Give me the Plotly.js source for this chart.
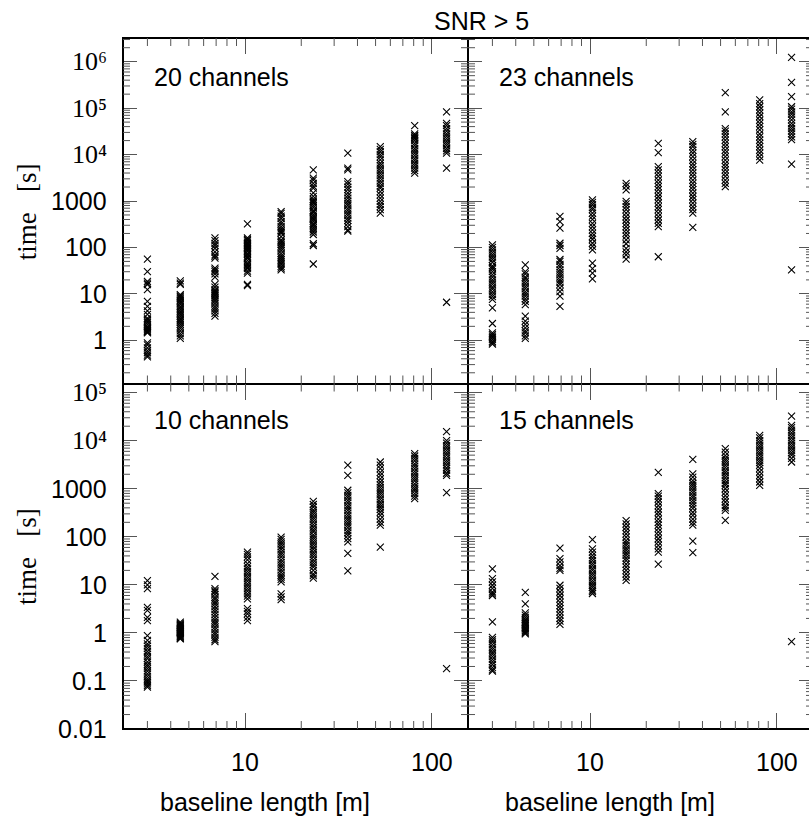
<!DOCTYPE html>
<html>
<head>
<meta charset="utf-8">
<script src="https://cdn.plot.ly/plotly-3.0.1.min.js"></script>
<style>
html,body{margin:0;padding:0;overflow:hidden;background:#fff;}
#chart{width:813px;height:821px;}
</style>
</head>
<body>
<div id="chart"></div>
<script>
// baseline lengths [m] of the ten baseline groups
const baselines = [3, 4.5, 6.9, 10.3, 15.6, 23.2, 35.5, 53, 81, 120];

// time [s] per baseline group, 20 channels (top left)
const times20 = [
  [56, 30, 18.5, 17, 15.8, 12.3, 6.9, 5.4, 4.3, 3.6, 3.0, 2.8, 2.6, 2.4, 2.2, 2.0, 1.9, 1.8, 1.7, 1.6, 1.55, 1.5, 1.44, 0.88, 0.8, 0.69, 0.6, 0.54, 0.48, 0.44],
  [19, 17, 16, 9.6, 9, 8.5, 8, 7.4, 7, 6.5, 6, 5.4, 5, 4.6, 4.2, 3.9, 3.6, 3.3, 3.0, 2.8, 2.6, 2.4, 2.2, 2.0, 1.8, 1.6, 1.4, 1.25, 1.1],
  [160, 140, 122, 110, 96, 80, 69, 64, 59, 36, 33, 30, 27, 23, 16, 14, 12.3, 11.5, 10.8, 10.2, 9.6, 9, 8.2, 7.5, 6.9, 6.2, 5.4, 4.8, 4.3, 3.8, 3.3],
  [323, 160, 150, 140, 130, 123, 118, 112, 105, 100, 95, 88, 82, 74, 70, 65, 61, 58, 52, 46, 43, 40, 37, 35, 31, 28, 16, 15],
  [590, 540, 470, 420, 360, 320, 280, 250, 230, 215, 200, 170, 145, 135, 125, 115, 105, 95, 85, 74, 66, 60, 54, 49, 44, 39, 36, 33],
  [4700, 3100, 2800, 2400, 2100, 1900, 1500, 1260, 1100, 1000, 950, 890, 800, 720, 630, 590, 560, 500, 460, 430, 400, 370, 330, 310, 290, 265, 240, 215, 190, 120, 110, 44],
  [10700, 5100, 4700, 2600, 2300, 2000, 1750, 1500, 1300, 1150, 1000, 890, 800, 690, 620, 550, 490, 430, 380, 330, 280, 240, 225],
  [14800, 13000, 11500, 10000, 8900, 7700, 6500, 5800, 5100, 4500, 4000, 3500, 3100, 2700, 2400, 2100, 1900, 1600, 1350, 1150, 980, 850, 760, 650, 550],
  [42000, 28000, 26000, 25000, 23000, 22000, 20000, 17500, 15500, 13500, 12000, 10700, 9500, 8300, 7400, 6500, 5800, 5100, 4500, 4000],
  [83000, 47000, 42000, 36000, 32000, 28000, 25000, 22000, 19500, 17500, 15500, 13500, 12000, 10700, 5100, 6.6]
];

// 23 channels (top right)
const times23 = [
  [114, 100, 89, 78, 69, 62, 55, 48, 40, 37, 34, 30, 26, 23, 20, 18, 16, 14, 12.6, 11, 9.8, 8.7, 7.6, 5, 2.3, 1.44, 1.33, 1.23, 1.14, 1.05, 0.95, 0.88, 0.83],
  [42, 30, 27, 23, 21, 18.6, 16.5, 14.5, 13, 11.2, 10, 8.9, 7.8, 6.9, 5.9, 3.3, 2.6, 2.2, 1.86, 1.6, 1.44, 1.25, 1.1],
  [465, 360, 260, 123, 110, 95, 55, 50, 43, 38, 33, 29, 26, 23, 20, 18, 16, 13.5, 11.2, 8.9, 5.4],
  [1060, 930, 830, 720, 650, 550, 470, 400, 330, 280, 240, 200, 174, 150, 123, 105, 89, 46, 35, 28, 21],
  [2400, 2100, 1740, 980, 870, 760, 650, 550, 460, 390, 330, 280, 240, 204, 175, 145, 120, 95, 80, 69, 56],
  [17500, 11000, 5500, 4700, 4000, 3400, 2800, 2400, 2040, 1750, 1480, 1250, 1070, 900, 760, 650, 550, 460, 390, 330, 280, 63],
  [19000, 16500, 14800, 12500, 10700, 9000, 7600, 6400, 5500, 4700, 4000, 3400, 2800, 2400, 2040, 1750, 1480, 1250, 1070, 900, 760, 650, 550, 270],
  [215000, 83000, 36000, 32000, 28000, 24000, 20400, 17500, 14800, 12500, 10700, 9000, 7600, 6400, 5500, 4700, 4000, 3400, 2800, 2400, 2040],
  [150000, 125000, 107000, 92000, 78000, 66000, 55000, 47000, 40000, 34000, 28000, 24000, 20400, 17500, 14800, 12500, 10700, 9000, 7600],
  [1240000, 360000, 176000, 107000, 95000, 83000, 74000, 65000, 56000, 47000, 41000, 36000, 32000, 28000, 24000, 21000, 6200, 33]
];

// 10 channels (bottom left)
const times10 = [
  [12.3, 10, 8.3, 3.4, 2.95, 2.1, 1.8, 0.88, 0.7, 0.59, 0.53, 0.47, 0.41, 0.36, 0.32, 0.29, 0.25, 0.22, 0.2, 0.18, 0.16, 0.14, 0.125, 0.11, 0.1, 0.095, 0.087, 0.08, 0.074],
  [1.67, 1.58, 1.5, 1.45, 1.41, 1.35, 1.3, 1.25, 1.2, 1.15, 1.1, 1.06, 1.02, 0.98, 0.95, 0.91, 0.87, 0.84, 0.8, 0.77, 0.75],
  [15, 8.3, 7.6, 7.1, 6.3, 5.5, 5, 4.4, 4, 3.5, 3.1, 2.75, 2.4, 2.1, 1.85, 1.66, 1.5, 1.32, 1.17, 1.02, 0.92, 0.81, 0.72, 0.66],
  [48, 43, 38, 33, 27.5, 24, 21.4, 19, 17, 15, 13.5, 12, 10.5, 9.4, 8.3, 7.4, 6.5, 5.8, 5.1, 3.2, 2.8, 2.5, 2.1, 1.8],
  [98, 88, 78, 70, 62, 55, 48, 43, 38, 33, 29.5, 26, 23.4, 20.5, 18.2, 16, 14.5, 13, 11.5, 6.5, 5.6, 4.9],
  [545, 470, 417, 360, 324, 290, 257, 230, 204, 180, 158, 140, 126, 110, 98, 88, 78, 70, 62, 55, 48, 43, 38, 33, 29.5, 26, 23.4, 20, 17, 15.5, 13.8],
  [3100, 1900, 930, 820, 724, 650, 575, 510, 447, 400, 355, 310, 275, 245, 219, 195, 174, 155, 135, 120, 107, 92, 78, 45, 19.5],
  [3600, 3100, 2630, 2200, 1900, 1600, 1380, 1200, 1070, 950, 850, 760, 676, 600, 525, 470, 417, 370, 324, 280, 234, 200, 174, 61],
  [5400, 4800, 4270, 3800, 3300, 2950, 2630, 2300, 2040, 1800, 1620, 1450, 1260, 1120, 1000, 900, 794, 700, 620],
  [15500, 10000, 8900, 7900, 7100, 6300, 5600, 5000, 4400, 3900, 3500, 3100, 2700, 2400, 2100, 1900, 830, 0.18]
];

// 15 channels (bottom right)
const times15 = [
  [21.5, 13.5, 11.5, 9.8, 8.4, 7.1, 6.5, 6.0, 1.7, 0.81, 0.72, 0.65, 0.57, 0.5, 0.45, 0.4, 0.36, 0.32, 0.28, 0.25, 0.22, 0.19, 0.17, 0.16],
  [7, 4, 2.6, 2.35, 2.1, 1.9, 1.78, 1.66, 1.58, 1.5, 1.41, 1.32, 1.25, 1.2, 1.12, 1.05, 1.0, 0.95],
  [58, 35, 30, 25, 22, 20, 9.8, 8.4, 7.1, 6, 5.1, 4.3, 3.7, 3.2, 2.75, 2.35, 2.0, 1.75, 1.5],
  [87, 56, 48, 41, 36, 32, 28, 25, 22, 20, 17.5, 15.8, 14, 12.3, 11, 9.8, 8.8, 7.8, 7.2, 6.6],
  [218, 185, 158, 135, 115, 98, 83, 74, 66, 58, 52, 46, 41, 36, 32, 27, 23.4, 20, 17, 14.5, 12.4],
  [2200, 794, 700, 617, 530, 447, 380, 324, 280, 234, 200, 174, 150, 126, 108, 91, 78, 66, 56, 48, 27],
  [4100, 2040, 1750, 1480, 1300, 1170, 1050, 933, 830, 724, 650, 575, 510, 447, 390, 324, 280, 234, 200, 174, 81, 47],
  [6800, 5800, 4900, 4300, 3900, 3500, 3100, 2750, 2400, 2150, 1900, 1680, 1480, 1300, 1170, 1000, 850, 720, 617, 530, 447, 400, 355, 220],
  [12900, 11400, 10000, 8900, 7900, 7100, 6300, 5600, 5000, 4400, 3900, 3500, 3100, 2650, 2240, 1900, 1620, 1380, 1170],
  [32500, 20900, 18600, 16600, 14600, 12900, 11400, 10000, 8900, 7900, 7100, 6300, 5600, 5000, 4300, 3600, 0.66]
];

const panelLabels = ["20 channels", "23 channels", "10 channels", "15 channels"];
const xTickVals = [10, 100];
const xTickText = ["10", "100"];
const yTickVals = [0.01, 0.1, 1, 10, 100, 1000, 1e4, 1e5, 1e6];
const yTickText = ["0.01", "0.1", "1", "10", "100", "1000", "10\u2074", "10\u2075", "10\u2076"];
const yTickSerif = [false, false, false, false, false, false, true, true, true];

// minor tick positions: digits 2..9 of each decade
function minorTicks(decades) {
  const out = [];
  decades.forEach(d => { for (let m = 2; m <= 9; m++) out.push(m * d); });
  return out;
}
const xMinor = minorTicks([1, 10, 100]);
const yMinor = minorTicks([0.001, 0.01, 0.1, 1, 10, 100, 1000, 1e4, 1e5, 1e6]);

function flatten(groups) {
  const xs = [], ys = [];
  groups.forEach((g, i) => g.forEach(v => { xs.push(baselines[i]); ys.push(v); }));
  return {xs, ys};
}

const sets = [times20, times23, times10, times15];
const axisPairs = [["x", "y"], ["x2", "y2"], ["x3", "y3"], ["x4", "y4"]];
const traces = sets.map((s, k) => {
  const f = flatten(s);
  return {
    type: "scatter", mode: "markers", x: f.xs, y: f.ys,
    xaxis: axisPairs[k][0], yaxis: axisPairs[k][1],
    marker: {symbol: "x-thin-open", size: 7, color: "#000", line: {color: "#000", width: 1.1}},
    showlegend: false, hoverinfo: "x+y"
  };
});

const SANS = "Liberation Sans, Arial, Helvetica, sans-serif";
const SERIF = "Liberation Serif, DejaVu Serif, serif";
const tickCol = "#555";
const xRange = [Math.log10(2.22), Math.log10(156.3)];
const topRange = [-0.93, 6.51];
const botRange = [-2, 5.19];

function xAxis(domain, anchor) {
  return {type: "log", domain: domain, anchor: anchor, range: xRange,
    showline: true, linecolor: "#000", linewidth: 1, mirror: "allticks",
    ticks: "inside", ticklen: 16, tickwidth: 1, tickcolor: tickCol,
    tickmode: "array", tickvals: xTickVals, showticklabels: false,
    showgrid: false, zeroline: false, fixedrange: true};
}
function yAxis(domain, anchor, range) {
  return {type: "log", domain: domain, anchor: anchor, range: range,
    showline: true, linecolor: "#000", linewidth: 1, mirror: "allticks",
    ticks: "inside", ticklen: 14, tickwidth: 1, tickcolor: tickCol,
    tickmode: "array", tickvals: yTickVals, showticklabels: false,
    showgrid: false, zeroline: false, fixedrange: true};
}

const L = [0, 0.5], R = [0.5, 1], T = [0.5, 1], B = [0, 0.5];
const panels = [
  {x: "x", y: "y", yr: topRange, xlab: false, ylab: true},
  {x: "x2", y: "y2", yr: topRange, xlab: false, ylab: false},
  {x: "x3", y: "y3", yr: botRange, xlab: true, ylab: true},
  {x: "x4", y: "y4", yr: botRange, xlab: true, ylab: false}
];
const PW = 345, PH = 345.5;   // panel size in px
const frac = (v, r) => (Math.log10(v) - r[0]) / (r[1] - r[0]);

// short minor ticks (on all four sides) and tick labels, placed in axis-domain units
const shapes = [{type: "rect", xref: "paper", yref: "paper", x0: 0, x1: 1, y0: 0, y1: 1,
  line: {color: "#000", width: 2}, layer: "above"}];
const annotations = [];
const tickLine = {color: tickCol, width: 1};
panels.forEach(p => {
  const xd = p.x + " domain", yd = p.y + " domain";
  xMinor.forEach(v => {
    const f = frac(v, xRange);
    if (f <= 0 || f >= 1) return;
    shapes.push({type: "line", xref: xd, yref: yd, x0: f, x1: f, y0: 0, y1: 8 / PH, line: tickLine, layer: "above"});
    shapes.push({type: "line", xref: xd, yref: yd, x0: f, x1: f, y0: 1 - 8 / PH, y1: 1, line: tickLine, layer: "above"});
  });
  yMinor.forEach(v => {
    const f = frac(v, p.yr);
    if (f <= 0 || f >= 1) return;
    shapes.push({type: "line", xref: xd, yref: yd, x0: 0, x1: 7 / PW, y0: f, y1: f, line: tickLine, layer: "above"});
    shapes.push({type: "line", xref: xd, yref: yd, x0: 1 - 7 / PW, x1: 1, y0: f, y1: f, line: tickLine, layer: "above"});
  });
  if (p.xlab) {
    xTickVals.forEach((v, i) => annotations.push({text: xTickText[i], xref: xd, yref: yd,
      x: frac(v, xRange), y: -33 / PH, xanchor: "center", yanchor: "middle", showarrow: false,
      font: {family: SANS, size: 25, color: "#000"}}));
  }
  if (p.ylab) {
    yTickVals.forEach((v, i) => {
      const f = frac(v, p.yr);
      if (f < -0.001 || f > 1.001) return;
      annotations.push({text: yTickText[i], xref: xd, yref: yd, x: -14 / PW, y: f,
        xanchor: "right", yanchor: "middle", showarrow: false,
        font: yTickSerif[i] ? {family: SERIF, size: 26, color: "#000"} : {family: SANS, size: 25, color: "#000"}});
    });
  }
});

const annFont = {family: SANS, size: 25, color: "#000"};
const yTitle = "time\u00a0\u00a0\u00a0[s]";
function ann(text, x, y, xanchor, extra) {
  return Object.assign({text: text, x: x, y: y, xref: "paper", yref: "paper", showarrow: false,
    xanchor: xanchor, yanchor: "middle", font: annFont}, extra || {});
}
annotations.push(
  ann("SNR > 5", 0.519, 1.0246, "center"),
  ann(panelLabels[0], 0.042, 0.9436, "left"),
  ann(panelLabels[1], 0.542, 0.9436, "left"),
  ann(panelLabels[2], 0.042, 0.447, "left"),
  ann(panelLabels[3], 0.542, 0.447, "left"),
  ann("baseline length [m]", 0.2058, -0.1056, "center"),
  ann("baseline length [m]", 0.7058, -0.1056, "center"),
  ann(yTitle, -0.139, 0.748, "center", {textangle: -90, font: {family: SERIF, size: 27, color: "#000"}}),
  ann(yTitle, -0.139, 0.249, "center", {textangle: -90, font: {family: SERIF, size: 27, color: "#000"}})
);

const layout = {
  width: 813, height: 821,
  margin: {l: 123, r: 0, t: 38, b: 92},
  paper_bgcolor: "#fff", plot_bgcolor: "rgba(0,0,0,0)",
  font: {family: SANS, size: 25, color: "#000"},
  xaxis:  xAxis(L, "y"),
  yaxis:  yAxis(T, "x", topRange),
  xaxis2: xAxis(R, "y2"),
  yaxis2: yAxis(T, "x2", topRange),
  xaxis3: xAxis(L, "y3"),
  yaxis3: yAxis(B, "x3", botRange),
  xaxis4: xAxis(R, "y4"),
  yaxis4: yAxis(B, "x4", botRange),
  shapes: shapes,
  annotations: annotations,
  showlegend: false
};

Plotly.newPlot("chart", traces, layout, {staticPlot: true, displayModeBar: false});
</script>
</body>
</html>
